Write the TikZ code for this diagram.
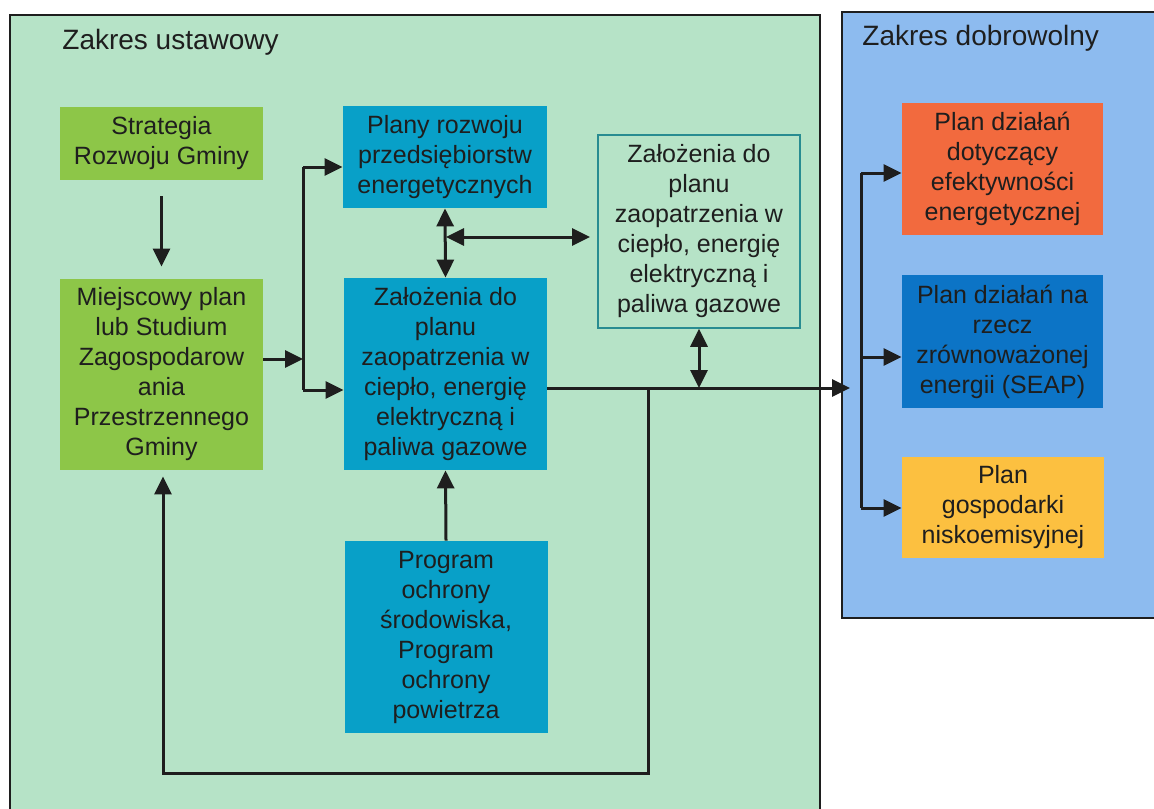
\documentclass[tikz,border=0pt]{standalone}
\usepackage{fontspec}
\setmainfont{Liberation Sans}
\usetikzlibrary{arrows.meta}
\definecolor{panelgreen}{RGB}{182,227,199}
\definecolor{panelblue}{RGB}{141,187,239}
\definecolor{boxgreen}{RGB}{141,198,72}
\definecolor{boxteal}{RGB}{8,160,200}
\definecolor{boxorange}{RGB}{242,106,62}
\definecolor{boxblue}{RGB}{12,116,198}
\definecolor{boxyellow}{RGB}{252,192,64}
\definecolor{txt}{RGB}{30,30,30}
\definecolor{outl}{RGB}{40,140,145}
\definecolor{lin}{RGB}{30,30,30}
\begin{document}
\begin{tikzpicture}[x=0.5pt,y=-0.5pt,
  >={Triangle[length=9pt,width=8.5pt]},
  box/.style={inner sep=0pt, align=center, text=txt, font=\fontsize{12.5}{15}\selectfont},
  title/.style={inner sep=0pt, anchor=west, text=txt, font=\fontsize{14}{16}\selectfont},
  conn/.style={line width=1.5pt, draw=lin},
  panel/.style={line width=1pt, draw=lin}]
\useasboundingbox (0,0) rectangle (1154,808);
\clip (0,0) rectangle (1154,808);
% panels
\path[panel, fill=panelgreen] (10,15) rectangle (820,830);
\path[panel, fill=panelblue] (842,12) rectangle (1170,618);
\node[title] (t1) at (62,42) {Zakres ustawowy};
\node[title] (t2) at (862,38) {Zakres dobrowolny};
% boxes
\node[box, fill=boxgreen, minimum width=101.5pt, minimum height=36.5pt] (strat) at (161.5,143.5) {Strategia\\Rozwoju Gminy};
\node[box, fill=boxgreen, minimum width=101.5pt, minimum height=95.5pt] (miej) at (161.5,374.5) {Miejscowy plan\\lub Studium\\Zagospodarow\\ania\\Przestrzennego\\Gminy};
\node[box, fill=boxteal, minimum width=102pt, minimum height=51pt] (plany) at (445,157) {Plany rozwoju\\przedsiębiorstw\\energetycznych};
\node[box, fill=boxteal, minimum width=101.5pt, minimum height=96pt] (zal) at (445.5,374) {Założenia do\\planu\\zaopatrzenia w\\ciepło, energię\\elektryczną i\\paliwa gazowe};
\node[box, fill=boxteal, minimum width=101.5pt, minimum height=96pt] (prog) at (446,637) {Program\\ochrony\\środowiska,\\Program\\ochrony\\powietrza};
\node[box, fill=panelgreen, draw=outl, line width=0.8pt, minimum width=101pt, minimum height=96.5pt] (zal2) at (699,231.5) {Założenia do\\planu\\zaopatrzenia w\\ciepło, energię\\elektryczną i\\paliwa gazowe};
\node[box, fill=boxorange, minimum width=100.5pt, minimum height=66pt] (ora) at (1002.5,169) {Plan działań\\dotyczący\\efektywności\\energetycznej};
\node[box, fill=boxblue, minimum width=100.5pt, minimum height=66.5pt] (seap) at (1002.5,341.5) {Plan działań na\\rzecz\\zrównoważonej\\energii (SEAP)};
\node[box, fill=boxyellow, minimum width=101pt, minimum height=50.5pt] (yel) at (1003,507.5) {Plan\\gospodarki\\niskoemisyjnej};
% junction coordinates
\coordinate (a) at (303,359);
\coordinate (a1) at (303,167);
\coordinate (a2) at (303,390);
\coordinate (h1) at (446,237);
\coordinate (h2) at (590,237);
\coordinate (j) at (699,388);
\coordinate (lp) at (648,388);
\coordinate (lb) at (648,773);
\coordinate (lc) at (163,773);
\coordinate (bin) at (850,388);
\coordinate (d1) at (861,173);
\coordinate (d2) at (861,357);
\coordinate (d3) at (861,508);
% connectors
\draw[conn,->,shorten <=8pt,shorten >=6pt] (strat) -- (miej);
\draw[conn,->] (miej.east |- a) -- (a);
\draw[conn] (a1) -- (a2);
\draw[conn,->] (a1) -- (plany.west |- a1);
\draw[conn,->] (a2) -- (zal.west |- a2);
\draw[conn,<->] (plany.south) -- (zal.north);
\draw[conn,<->] (h1) -- (h2);
\draw[conn,<->] (zal2.south) -- (j);
\draw[conn,->] (zal.east |- j) -- (bin);
\draw[conn,->,shorten >=3pt] (lp) -- (lb) -- (lc) -- (lc |- miej.south);
\draw[conn,->] (prog.north) -- (zal.south);
\draw[conn] (d1) -- (d3);
\draw[conn,->] (d1) -- (ora.west |- d1);
\draw[conn,->] (d2) -- (seap.west |- d2);
\draw[conn,->] (d3) -- (yel.west |- d3);
\end{tikzpicture}
\end{document}
